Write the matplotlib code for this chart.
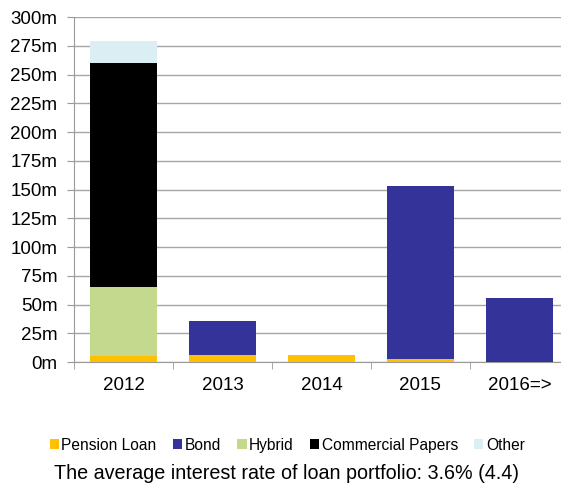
import numpy as np
import matplotlib
matplotlib.use('Agg')
import matplotlib.pyplot as plt
from matplotlib.ticker import FuncFormatter

plt.rcParams['font.family'] = ['Liberation Sans', 'DejaVu Sans']

years    = ["2012", "2013", "2014", "2015", "2016=>"]
pension  = [5, 6, 6, 3, 0]
bond     = [0, 30, 0, 150, 56]
hybrid   = [60, 0, 0, 0, 0]
cp       = [195, 0, 0, 0, 0]
other    = [19, 0, 0, 0, 0]

series = [
    ("Pension Loan", pension, "#FFC000"),
    ("Bond", bond, "#333399"),
    ("Hybrid", hybrid, "#C4D98D"),
    ("Commercial Papers", cp, "#000000"),
    ("Other", other, "#DAEEF3"),
]

fig = plt.figure(figsize=(5.61, 4.88), dpi=100)
ax = fig.add_axes([0.132, 0.258, 0.882, 0.707])

x = np.arange(len(years))
bottom = np.zeros(len(years))
for name, vals, col in series:
    ax.bar(x, vals, 0.68, bottom=bottom, color=col, label=name, zorder=3)
    bottom += np.array(vals)

ax.set_ylim(0, 300)
ax.set_yticks(np.arange(0, 301, 25))
ax.yaxis.set_major_formatter(FuncFormatter(lambda v, p: f"{int(v)}m"))
ax.set_xlim(-0.5, len(years) - 0.5)
ax.set_xticks(x)
ax.set_xticklabels(years)
ax.set_xticks(np.arange(-0.5, len(years), 1), minor=True)
ax.tick_params(axis='x', which='major', length=0, pad=11, labelsize=13.5)
ax.tick_params(axis='x', which='minor', length=5, color='#999999')
ax.tick_params(axis='y', length=5, color='#999999', labelsize=13.5, pad=7)

ax.grid(axis='y', color='#A6A6A6', linewidth=1, zorder=0)
for s in ['top', 'right']:
    ax.spines[s].set_visible(False)
for s in ['left', 'bottom']:
    ax.spines[s].set_color('#999999')

handles, labels = ax.get_legend_handles_labels()
fig.legend(handles, labels, loc='center', bbox_to_anchor=(0.512, 0.088), ncol=5,
           frameon=False, fontsize=11.2, handlelength=0.6, handleheight=0.6,
           handletextpad=0.15, columnspacing=1.05)

fig.text(0.511, 0.029, "The average interest rate of loan portfolio: 3.6% (4.4)",
         ha='center', va='center', fontsize=14.2)

plt.savefig("out.png", dpi=100)
